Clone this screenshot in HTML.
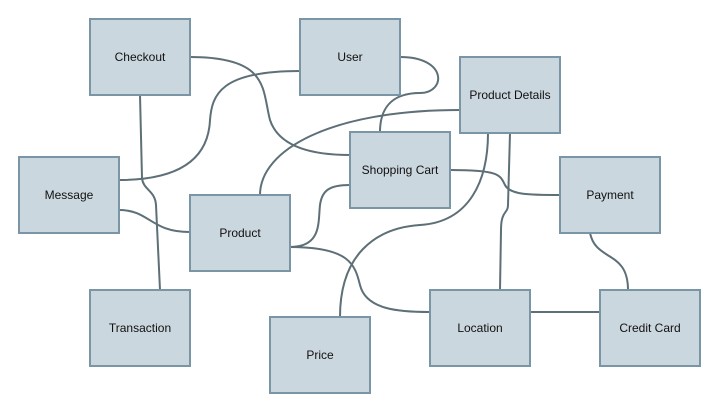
<!DOCTYPE html>
<html><head><meta charset="utf-8"><style>
body{margin:0;background:#fff;}
svg{display:block;font-family:"Liberation Sans",sans-serif;font-size:12px;}
rect{fill:#cbd7de;stroke:#7a95a5;stroke-width:2;}
path{fill:none;stroke:#5d6f77;stroke-width:2;}
</style></head><body>
<svg width="720" height="412" viewBox="0 0 720 412">
<path d="M190,57 C270,57 262,90 270,120 C280,150 320,155 350,155"/>
<path d="M300,71 C220,71 212,95 210,120 C208,165 170,180 119,180"/>
<path d="M400,57 C448,57 446,93 420,93 C390,93 380,110 380,132"/>
<path d="M460,110 C330,110 260,150 260,195"/>
<path d="M140,95 L142,178 C143,190 155,190 156,205 L160,290"/>
<path d="M119,210 C150,210 150,232 190,232"/>
<path d="M290,247 C322,247 318,222 320,205 C322,190 330,185 350,185"/>
<path d="M290,247 C350,247 355,265 360,285 C366,310 400,312 430,312"/>
<path d="M340,317 C340,255 375,228 420,225 C470,222 488,180 488,133"/>
<path d="M510,133 L508,205 C508,214 501,210 501,230 L500,290"/>
<path d="M450,170 C500,170 500,175 505,185 C510,195 530,195 560,195"/>
<path d="M530,312 L600,312"/>
<path d="M590,233 C596,262 628,250 628,290"/>
<rect x="90" y="19" width="100" height="76"/>
<rect x="300" y="19" width="100" height="76"/>
<rect x="460" y="57" width="100" height="76"/>
<rect x="19" y="157" width="100" height="76"/>
<rect x="350" y="132" width="100" height="76"/>
<rect x="560" y="157" width="100" height="76"/>
<rect x="190" y="195" width="100" height="76"/>
<rect x="90" y="290" width="100" height="76"/>
<rect x="430" y="290" width="100" height="76"/>
<rect x="600" y="290" width="100" height="76"/>
<rect x="270" y="317" width="100" height="76"/>
<g text-anchor="middle" fill="#111">
<text x="140" y="61">Checkout</text>
<text x="350" y="61">User</text>
<text x="510" y="99">Product Details</text>
<text x="69" y="199">Message</text>
<text x="400" y="174">Shopping Cart</text>
<text x="610" y="199">Payment</text>
<text x="240" y="237">Product</text>
<text x="140" y="332">Transaction</text>
<text x="480" y="332">Location</text>
<text x="650" y="332">Credit Card</text>
<text x="320" y="359">Price</text>
</g>
</svg>
</body></html>
